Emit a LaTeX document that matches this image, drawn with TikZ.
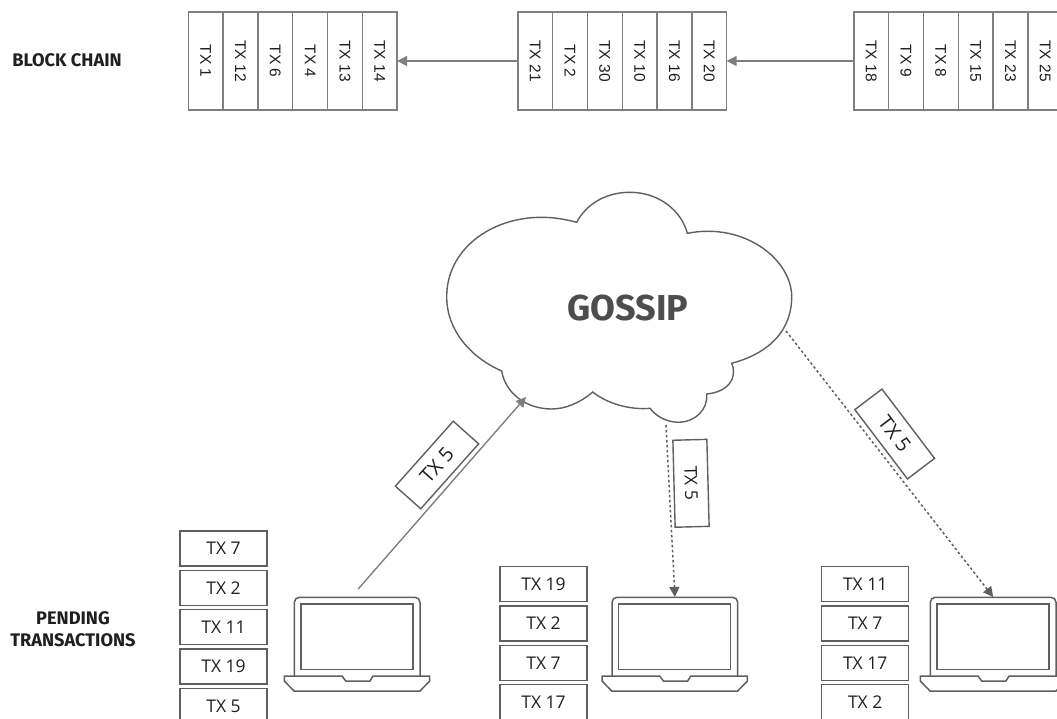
\documentclass[tikz,border=0pt]{standalone}
\usepackage{fontspec}
\usepackage{xcolor}
\usetikzlibrary{arrows.meta,calc}
\setmainfont{Open Sans}
\newfontfamily\cellfont{Liberation Sans}
\newfontfamily\headfont{Fira Sans}
\definecolor{color_block}{HTML}{7f7f7f}
\definecolor{color_line}{HTML}{5f5f5f}
\definecolor{color_gossip}{HTML}{4d4d4d}
\definecolor{color_text}{HTML}{1f1f1f}
\tikzset{
	blockcell/.style={draw=color_block,line width=1.4pt,minimum width=98pt,minimum height=34.8pt,
		inner sep=0pt,outer sep=0pt,rotate=-90,text=color_text,font=\cellfont\fontsize{15.5}{18}\selectfont},
	pendingbox/.style={draw=color_line,line width=1.4pt,minimum width=87pt,minimum height=35pt,
		inner sep=0pt,outer sep=0pt,text=color_text,font=\fontsize{17.5}{20}\selectfont},
	gossipbox/.style={pendingbox,minimum height=34pt},
	heading/.style={inner sep=0pt,align=center,text=color_text,font=\headfont\bfseries\fontsize{18.2}{22}\selectfont},
	tip/.style={-{Triangle[length=10pt,width=10pt]}},
	dotline/.style={tip,color_line,line width=1.5pt,dash pattern=on 2.5pt off 2.5pt},
}
\begin{document}
\begin{tikzpicture}[x=1pt,y=-1pt]
	\useasboundingbox (0, 0) rectangle (1057, 719);
	\clip (0, 0) rectangle (1057, 719);

	% Headings
	\node[heading] (chain) at (67, 60) {BLOCK CHAIN};
	\node[heading] (pending) at (73, 629) {PENDING\\TRANSACTIONS};

	% Blocks
	\foreach \t [count=\i] in {TX 1,TX 12,TX 6,TX 4,TX 13,TX 14}
		\node[blockcell] (ba\i) at ({188.3+(\i-0.5)*34.8}, 61) {\t};
	\foreach \t [count=\i] in {TX 21,TX 2,TX 30,TX 10,TX 16,TX 20}
		\node[blockcell] (bb\i) at ({517.8+(\i-0.5)*34.8}, 61) {\t};
	\foreach \t [count=\i] in {TX 18,TX 9,TX 8,TX 15,TX 23,TX 25}
		\node[blockcell] (bc\i) at ({853.8+(\i-0.5)*34.8}, 61) {\t};
	\draw[tip,color_block,line width=1.5pt] (bb1.south) -- (ba6.north);
	\draw[tip,color_block,line width=1.5pt] (bc1.south) -- (bb6.north);

	% Pending transactions
	\foreach \t [count=\i] in {TX 7,TX 2,TX 11,TX 19,TX 5}
		\node[pendingbox] (pa\i) at (223.5, {548.4+(\i-1)*39.4}) {\t};
	\foreach \t [count=\i] in {TX 19,TX 2,TX 7,TX 17}
		\node[pendingbox] (pb\i) at (543.5, {584+(\i-1)*39.4}) {\t};
	\foreach \t [count=\i] in {TX 11,TX 7,TX 17,TX 2}
		\node[pendingbox] (pc\i) at (865.2, {584+(\i-1)*39.4}) {\t};

	% Laptops
	\foreach \dx [count=\i] in {0,317.7,636}
	{
		\begin{scope}[shift={(\dx,0)},color_line,line width=1.5pt]
			\draw[rounded corners=5pt] (294.3, 676) -- (294.3, 597.3) -- (420, 597.3) -- (420, 676);
			\draw (301, 604) rectangle (413, 669.7);
			\draw (342, 676) -- (284.3, 676) -- (284.3, 681) -- (294, 691) -- (420, 691)
				-- (429.7, 681) -- (429.7, 676) -- (373, 676) -- (370, 681) -- (345.7, 681) -- cycle;
			\coordinate (laptop\i) at (357.2, 597);
		\end{scope}
	}

	% Cloud
	\draw[color_line,line width=1.4pt]
		(576.7, 222.3) .. controls (587, 203) and (607, 192.3) .. (630, 192.3)
		.. controls (660, 192.3) and (682, 212) .. (687.3, 233.3)
		.. controls (745, 222) and (791.7, 260) .. (791.7, 296.7)
		.. controls (791.7, 330) and (770, 353) .. (731.7, 363.3)
		.. controls (738, 378) and (728, 392) .. (706.7, 394)
		.. controls (708, 410) and (695, 422) .. (678.3, 422.3)
		.. controls (665, 422) and (655, 415) .. (650, 408.3)
		.. controls (630, 410) and (608, 404) .. (592.7, 392)
		.. controls (580, 403) and (565, 409) .. (551.7, 409)
		.. controls (525, 409) and (505, 392) .. (501.7, 371)
		.. controls (470, 357) and (446.7, 330) .. (446.7, 296.7)
		.. controls (446.7, 250) and (490, 217.3) .. (541.7, 217.3)
		.. controls (555, 217.3) and (566, 219.5) .. (576.7, 222.3)
		-- cycle;
	\node[inner sep=0pt,text=color_gossip,font=\headfont\bfseries\fontsize{36}{40}\selectfont] (gossip) at (628, 308) {GOSSIP};
	\coordinate (cloud_in) at (526, 397);
	\coordinate (cloud_mid) at (666, 425);
	\coordinate (cloud_right) at (786, 331);
	\coordinate (send) at ($(laptop1)+(1, -8)$);

	% Gossip arrows
	\draw[tip,color_block,line width=1.4pt] (send) -- (cloud_in);
	\draw[dotline] (cloud_mid) -- (laptop2);
	\draw[dotline] (cloud_right) -- (laptop3);

	% Travelling transaction
	\node[gossipbox,rotate=48.3,font=\fontsize{20}{22}\selectfont] (txa) at (437, 465) {TX 5};
	\node[gossipbox,rotate=-88.5] (txb) at (691, 483.3) {TX 5};
	\node[gossipbox,rotate=-52.8,font=\fontsize{20}{22}\selectfont] (txc) at (894.7, 434) {TX 5};
\end{tikzpicture}
\end{document}
